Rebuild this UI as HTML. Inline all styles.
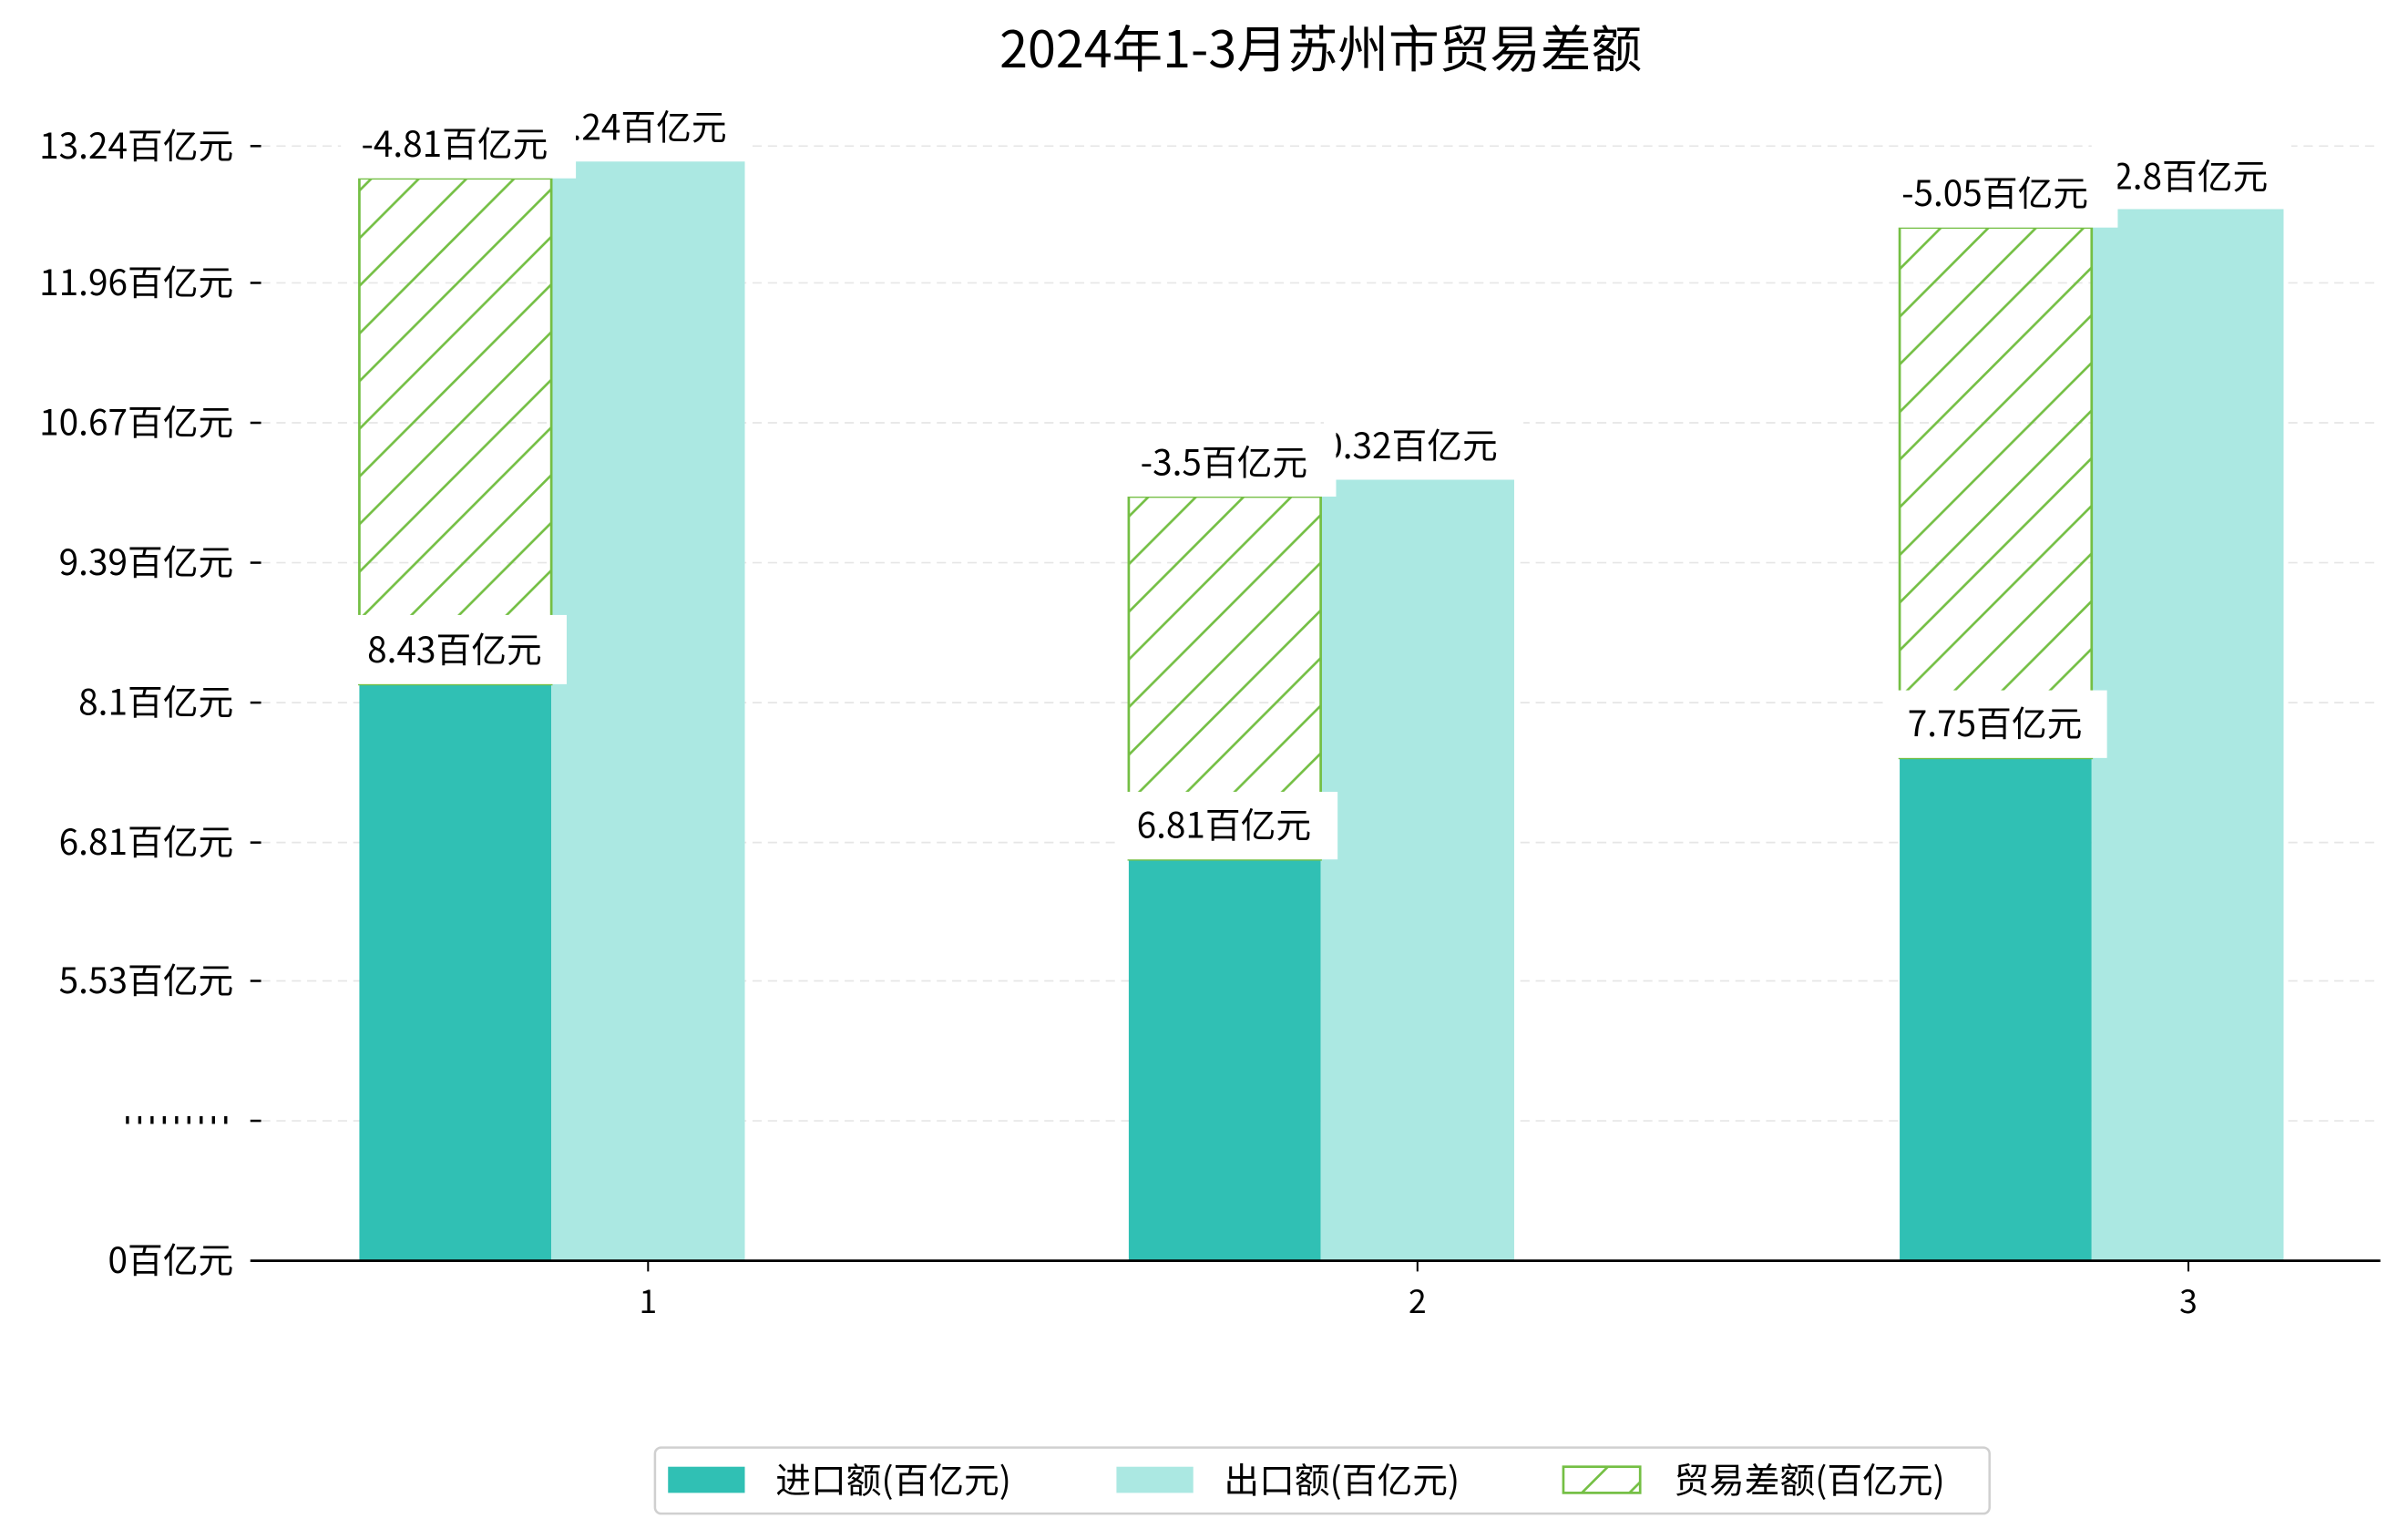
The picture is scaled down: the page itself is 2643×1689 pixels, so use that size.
<!DOCTYPE html>
<html><head><meta charset="utf-8"><style>
html,body{margin:0;padding:0;background:#fff;}
svg{display:block;}
text{font-family:"WenQuanYi Zen Hei","Noto Sans CJK SC",sans-serif;fill:#000;}
</style></head><body>
<svg width="2643" height="1689" viewBox="0 0 1568 1001" preserveAspectRatio="none" xmlns="http://www.w3.org/2000/svg">
<defs>
<pattern id="h" patternUnits="userSpaceOnUse" width="31" height="31" patternTransform="translate(234,0)">
<path d="M-5,36 L36,-5 M-36,36 L5,-5 M26,36 L67,-5" stroke="#74bf44" stroke-width="1.6"/>
</pattern>
</defs>
<text x="860" y="44" font-size="33" text-anchor="middle">2024年1-3月苏州市贸易差额</text>
<g stroke="#e6e6e6" stroke-width="1" stroke-dasharray="6,4">
<line x1="170" x2="1550" y1="95" y2="95"/><line x1="170" x2="1550" y1="184" y2="184"/>
<line x1="170" x2="1550" y1="275" y2="275"/><line x1="170" x2="1550" y1="366" y2="366"/>
<line x1="170" x2="1550" y1="457" y2="457"/><line x1="170" x2="1550" y1="548" y2="548"/>
<line x1="170" x2="1550" y1="638" y2="638"/><line x1="170" x2="1550" y1="729" y2="729"/>
</g>
<g stroke="#000" stroke-width="1.5">
<line x1="163" x2="170" y1="95" y2="95"/><line x1="163" x2="170" y1="184" y2="184"/>
<line x1="163" x2="170" y1="275" y2="275"/><line x1="163" x2="170" y1="366" y2="366"/>
<line x1="163" x2="170" y1="457" y2="457"/><line x1="163" x2="170" y1="548" y2="548"/>
<line x1="163" x2="170" y1="638" y2="638"/><line x1="163" x2="170" y1="729" y2="729"/>
</g>
<g font-size="23" text-anchor="end">
<text x="152" y="103">13.24百亿元</text><text x="152" y="192">11.96百亿元</text>
<text x="152" y="283">10.67百亿元</text><text x="152" y="374">9.39百亿元</text>
<text x="152" y="465">8.1百亿元</text><text x="152" y="556">6.81百亿元</text>
<text x="152" y="646">5.53百亿元</text>
<text x="152" y="828">0百亿元</text>
</g>
<g fill="#000">
<rect x="82" y="726" width="2" height="5"/><rect x="90" y="726" width="2" height="5"/><rect x="98" y="726" width="2" height="5"/>
<rect x="106" y="726" width="2" height="5"/><rect x="114" y="726" width="2" height="5"/><rect x="122" y="726" width="2" height="5"/>
<rect x="130" y="726" width="2" height="5"/><rect x="138" y="726" width="2" height="5"/><rect x="146" y="726" width="2" height="5"/>
</g>
<g fill="#30c0b4">
<rect x="234" y="445" width="125" height="375"/><rect x="735" y="559" width="125" height="261"/><rect x="1237" y="493" width="125" height="327"/>
</g>
<g fill="#abe8e2">
<rect x="359" y="105" width="126" height="715"/><rect x="860" y="312" width="126" height="508"/><rect x="1362" y="136" width="125" height="684"/>
</g>
<g fill="url(#h)" stroke="#74bf44" stroke-width="1.6">
<rect x="234" y="116" width="125" height="329"/><rect x="735" y="323" width="125" height="236"/><rect x="1237" y="148" width="125" height="345"/>
</g>
<g font-size="23" text-anchor="middle">
<rect x="360" y="61" width="130" height="44" fill="#fff"/><text x="410" y="91">13.24百亿元</text>
<rect x="862" y="268" width="130" height="44" fill="#fff"/><text x="912" y="298">10.32百亿元</text>
<rect x="1362" y="93" width="130" height="43" fill="#fff"/><text x="1420" y="123">12.8百亿元</text>
<rect x="222" y="72" width="153" height="44" fill="#fff"/><text x="296" y="102">-4.81百亿元</text>
<rect x="724" y="279" width="146" height="44" fill="#fff"/><text x="797" y="309">-3.5百亿元</text>
<rect x="1224" y="104" width="155" height="44" fill="#fff"/><text x="1299" y="134">-5.05百亿元</text>
<rect x="226" y="400" width="143" height="45" fill="#fff"/><text x="296" y="431">8.43百亿元</text>
<rect x="726" y="515" width="145" height="44" fill="#fff"/><text x="797" y="545">6.81百亿元</text>
<rect x="1226" y="449" width="146" height="44" fill="#fff"/><text x="1299" y="479">7.75百亿元</text>
</g>
<line x1="163" x2="1550" y1="820" y2="820" stroke="#000" stroke-width="1.6"/>
<g stroke="#000" stroke-width="1.2"><line x1="422" x2="422" y1="820" y2="827"/><line x1="923" x2="923" y1="820" y2="827"/><line x1="1425" x2="1425" y1="820" y2="827"/></g>
<g font-size="21" text-anchor="middle"><text x="422" y="854">1</text><text x="923" y="854">2</text><text x="1425" y="854">3</text></g>
<rect x="426.5" y="941.5" width="869" height="43" rx="4" fill="#fff" stroke="#d0d0d0" stroke-width="1.5"/>
<rect x="435" y="954" width="50" height="17" fill="#30c0b4"/>
<rect x="727" y="954" width="50" height="17" fill="#abe8e2"/>
<rect x="1018" y="954" width="50" height="17" fill="url(#h)" stroke="#74bf44" stroke-width="1.6"/>
<g font-size="23"><text x="505" y="971">进口额(百亿元)</text><text x="797" y="971">出口额(百亿元)</text><text x="1090" y="971">贸易差额(百亿元)</text></g>
</svg>
</body></html>
